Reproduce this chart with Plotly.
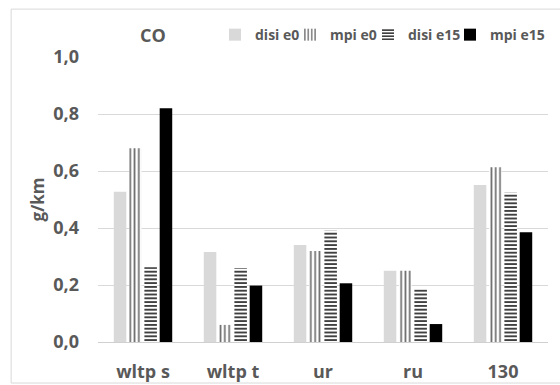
import plotly.graph_objects as go

categories = ["wltp s", "wltp t", "ur", "ru", "130"]
disi_e0 = [0.527, 0.316, 0.34, 0.25, 0.551]
mpi_e0 = [0.68, 0.06, 0.319, 0.25, 0.613]
disi_e15 = [0.262, 0.259, 0.39, 0.185, 0.524]
mpi_e15 = [0.82, 0.198, 0.206, 0.063, 0.385]
y_ticks = [0.0, 0.2, 0.4, 0.6, 0.8, 1.0]

FONT = "Open Sans"
TXT = "#595959"

fig = go.Figure()
fig.add_bar(name="disi e0", x=categories, y=disi_e0, legend="legend",
            marker=dict(color="#d9d9d9", line_width=0))
fig.add_bar(name="mpi e0", x=categories, y=mpi_e0, legend="legend2",
            marker=dict(color="white", line_width=0,
                        pattern=dict(shape="|", fgcolor="#6e6e6e", bgcolor="white", size=4.3, solidity=0.4, fillmode="replace")))
fig.add_bar(name="disi e15", x=categories, y=disi_e15, legend="legend3",
            marker=dict(color="white", line_width=0,
                        pattern=dict(shape="-", fgcolor="#404040", bgcolor="white", size=3.8, solidity=0.5, fillmode="replace")))
fig.add_bar(name="mpi e15", x=categories, y=mpi_e15, legend="legend4",
            marker=dict(color="black", line_width=0))

def leg(px):
    return dict(orientation="h", x=(px - 98) / 450, y=1.077, xanchor="left", yanchor="middle",
                font=dict(family=FONT, size=14, color=TXT, weight="bold"),
                bgcolor="rgba(0,0,0,0)", borderwidth=0)

fig.update_layout(
    width=560, height=385,
    margin=dict(l=98, r=12, t=57, b=43, autoexpand=False),
    paper_bgcolor="white", plot_bgcolor="white",
    separators=",.",
    barmode="group", bargap=0.32, bargroupgap=0.18,
    font=dict(family=FONT, color=TXT),
    showlegend=True,
    legend=leg(215), legend2=leg(290), legend3=leg(368), legend4=leg(450),
    xaxis=dict(showgrid=False, showline=True, linecolor="#d0d0d0", linewidth=1,
               ticks="", ticklabelstandoff=13, automargin=False,
               tickfont=dict(family=FONT, size=18, color=TXT, weight="bold")),
    yaxis=dict(range=[0, 1.0], tickvals=y_ticks, tickformat=".1f",
               showgrid=True, gridcolor="#d9d9d9", gridwidth=1, zeroline=False,
               showline=False, ticks="", ticklabelstandoff=18, automargin=False,
               tickfont=dict(family=FONT, size=18, color=TXT, weight="bold"),
               title=dict(text="g/km", font=dict(family=FONT, size=17, color=TXT, weight="bold"), standoff=4)),
    annotations=[dict(text="<b>CO</b>", x=(153 - 98) / 450, y=1.077, xref="paper", yref="paper",
                      xanchor="center", yanchor="middle", showarrow=False,
                      font=dict(family=FONT, size=18, color=TXT))],
    shapes=[dict(type="rect", xref="paper", yref="paper", x0=-0.193, x1=1.3, y0=-0.144, y1=1.168,
                 line=dict(color="#d9d9d9", width=1), fillcolor="rgba(0,0,0,0)", layer="below")],
)

fig.write_html("out.html")
